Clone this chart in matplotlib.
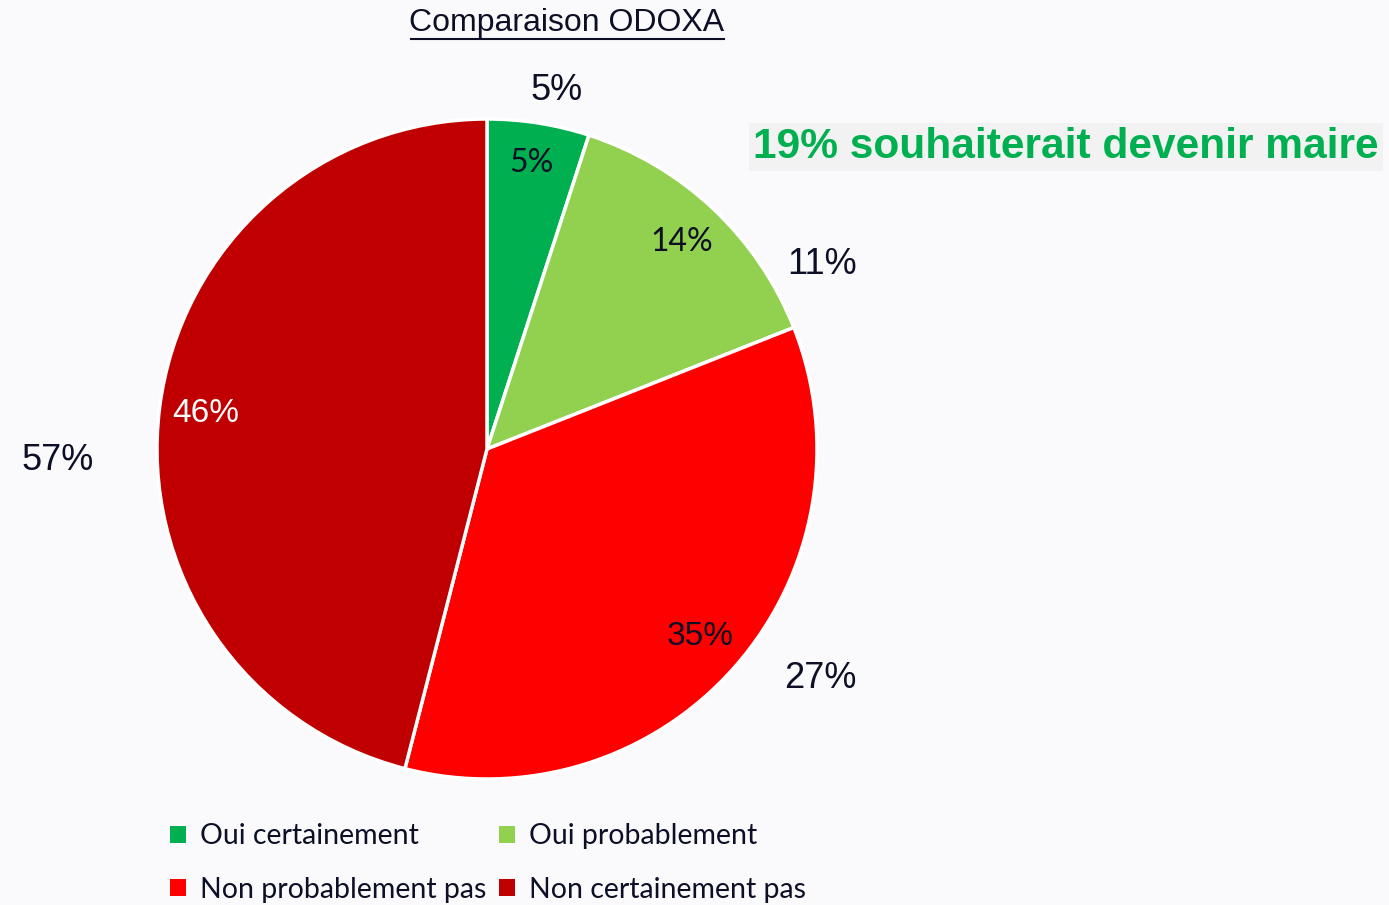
import matplotlib.pyplot as plt
from matplotlib.patches import Patch

# données
categories = ['Oui certainement', 'Oui probablement', 'Non probablement pas', 'Non certainement pas']
valeurs = [5, 14, 35, 46]
odoxa = [5, 11, 27, 57]
couleurs = ['#00B050', '#92D050', '#FF0000', '#C00000']

H = 905
fond = '#FAFAFD'
encre = '#0D0F26'

fig = plt.figure(figsize=(13.89, 9.05), dpi=100, facecolor=fond)
ax = fig.add_axes([0, 0, 1, 1])
ax.set_facecolor(fond)

# camembert (coordonnées en pixels, y vers le haut)
wedges, texts, autotexts = ax.pie(
    valeurs, colors=couleurs, startangle=90, counterclock=False,
    center=(487, H - 449), radius=330, autopct='%.0f%%', pctdistance=0.86,
    wedgeprops=dict(edgecolor='white', linewidth=2.5),
    textprops=dict(fontsize=24, color=encre, family='Liberation Sans'))

autotexts[0].set_family('Lato')
autotexts[1].set_family('Lato')
autotexts[0].set_fontsize(23)
autotexts[1].set_fontsize(23)
x0, y0 = autotexts[0].get_position()
autotexts[0].set_position((x0, y0 + 6))
autotexts[3].set_color('white')

ax.set_xlim(0, 1389)
ax.set_ylim(0, H)
ax.set_aspect('equal')
ax.axis('off')

# étiquettes ODOXA autour du camembert
pos_odoxa = [(557, 91), (822, 265), (820, 679), (58, 460)]
for v, (x, y) in zip(odoxa, pos_odoxa):
    ax.text(x, H - y, f'{v}%', fontsize=26, color=encre, family='Liberation Sans',
            ha='center', va='center')

# titre souligné
ax.text(567, H - 23, 'Comparaison ODOXA', fontsize=23, color=encre,
        family='Liberation Sans', ha='center', va='center')
ax.plot([411, 724], [H - 39, H - 39], color=encre, linewidth=1.5)

# encadré vert
ax.text(1066, H - 147, '19% souhaiterait devenir maire', fontsize=30.6, fontweight='bold',
        color='#00B050', family='Liberation Sans', ha='center', va='center',
        bbox=dict(boxstyle='square,pad=0.1', facecolor='#F2F2F2', edgecolor='none'))

# légende
ordre = [0, 2, 1, 3]
handles = [Patch(facecolor=couleurs[i], edgecolor='none') for i in ordre]
labels = [categories[i] for i in ordre]
leg = ax.legend(handles, labels, ncol=2, loc='center', bbox_to_anchor=(488 / 1389, 1 - 863 / H),
                frameon=False, prop=dict(family='Lato', size=20.5), labelcolor=encre,
                handlelength=0.55, handleheight=0.55, handletextpad=0.5,
                columnspacing=0.45, labelspacing=0.95)

fig.savefig('out.png', dpi=100, facecolor=fond)
